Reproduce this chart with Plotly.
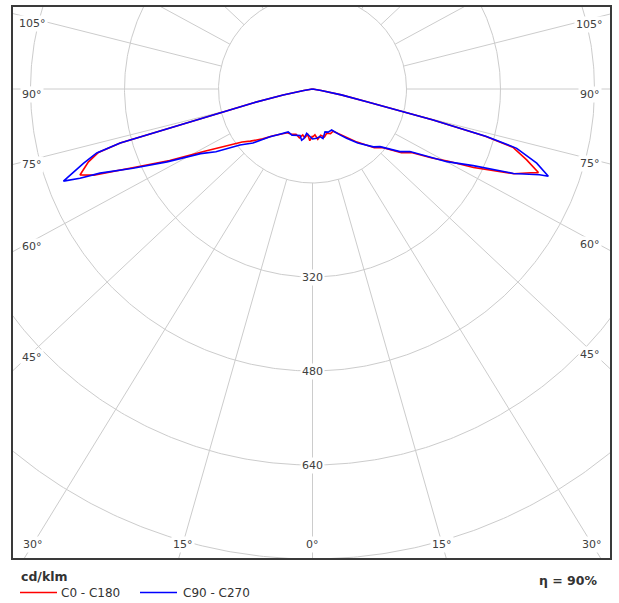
import numpy as np
import plotly.graph_objects as go

# ---------------- data (luminous intensity in cd/klm vs gamma angle in degrees) ----------------
# C0 plane (right half, red)
gamma_c0 = [0, 3, 6, 10, 14, 18, 22, 26, 31, 35, 40, 46.5, 50, 54.4, 57.3, 60, 62, 64, 67.2, 69.0, 69.7,
            71.7, 73.8, 74.7, 75.6, 76.8, 78.5, 80, 85, 90]
cd_c0 = [82, 78, 86, 80, 84, 79, 82, 80, 90, 101, 118, 145, 155, 186, 200, 235, 262, 305, 372, 398, 410,
         384, 355, 305, 212, 95, 50, 15, 4, 0]
# C180 plane (left half, red)
gamma_c180 = [0, 3, 6, 9, 12, 15, 20, 25, 30, 35, 40, 45, 50, 53, 56, 60, 63.4, 66.2, 68.5, 69.7,
              72.0, 73.5, 74.3, 74.6, 74.8, 75.5, 76.8, 78.5, 80, 85, 90]
cd_c180 = [80, 88, 78, 84, 80, 86, 82, 85, 86, 93, 104, 120, 138, 150, 170, 212, 272, 330, 400, 422,
           401, 380, 340, 282, 221, 163, 104, 51, 15, 4, 0]
# C90 plane (right half, blue)
gamma_c90 = [0, 4.9, 8.9, 12, 16.3, 20, 25, 30.9, 34.7, 40, 46.5, 49.5, 54.4, 57.3, 60, 61.6, 64.5, 67.2,
             69.3, 69.7, 71.7, 73.8, 74.7, 75.6, 76.8, 78.5, 80, 85, 90]
cd_c90 = [85, 84, 82, 86, 76, 78, 77, 91, 102, 120, 143, 151, 183, 197, 231, 260, 303, 371,
          413, 428, 402, 362, 307, 212, 95, 50, 15, 4, 0]
# C270 plane (left half, blue)
gamma_c270 = [0, 4, 7.5, 10, 12, 15, 19, 24, 29.5, 34, 37.7, 41.7, 45, 47.8, 52.3, 54.4, 57, 60, 63.4,
              66.2, 68.4, 69.0, 69.7, 72.0, 73.5, 74.3, 74.6, 74.8, 75.5, 76.8, 78.5, 80, 85, 90]
cd_c270 = [85, 80, 76, 86, 89, 82, 83, 86, 84, 92, 99, 109, 122, 137, 156, 173, 196, 220, 277,
           334, 389, 424, 452, 410, 383, 340, 282, 221, 163, 104, 51, 15, 4, 0]

series_names = ["C0 - C180", "C90 - C270"]
series_colors = ["#ff0000", "#0000ff"]

ring_values = [160, 320, 480, 640, 800]
ring_label_values = [320, 480, 640]
ray_gammas = [0, 15, 30, 45, 60, 75, 90, 105, 120, 135, 150, 165, 180]
side_label_gammas = [45, 60, 75, 90, 105]
bottom_label_gammas = [0, 15, 30]
unit_text = "cd/klm"
efficiency_text = "η = 90%"

# ---------------- layout constants ----------------
W, H = 619, 603
ML, MR, MT, MB = 12, 8, 6, 44
X_RANGE = [-511.5, 508.1]
Y_RANGE = [-800.0, 141.3]
PX_PER_UNIT = (W - ML - MR) / (X_RANGE[1] - X_RANGE[0])
RAY_K = 0.94          # vertical squash of the radial grid lines in the original drawing
GRID = "#cccccc"
TXT = "#404040"
FONT = "DejaVu Sans"

fig = go.Figure()

# rings
t = np.linspace(0, 2 * np.pi, 721)
for rv in ring_values:
    fig.add_trace(go.Scatter(x=rv * np.cos(t), y=rv * np.sin(t), mode="lines",
                             line=dict(color=GRID, width=1), hoverinfo="skip", showlegend=False))

# rays
def ray_dir(g, side):
    g = np.radians(g)
    dx, dy = side * np.sin(g), -RAY_K * np.cos(g)
    n = np.hypot(dx, dy)
    return dx / n, dy / n

for g in ray_gammas:
    for side in (-1, 1):
        dx, dy = ray_dir(g, side)
        fig.add_trace(go.Scatter(x=[160 * dx, 2000 * dx], y=[160 * dy, 2000 * dy], mode="lines",
                                 line=dict(color=GRID, width=1), hoverinfo="skip", showlegend=False))

# curves
def curve(gl, il, gr, ir):
    gl, gr = np.radians(gl), np.radians(gr)
    il, ir = np.asarray(il, float), np.asarray(ir, float)
    x = np.concatenate([(-il * np.sin(gl))[::-1], ir * np.sin(gr)])
    y = np.concatenate([(-il * np.cos(gl))[::-1], -ir * np.cos(gr)])
    return x, y

for name, color, (gl, il, gr, ir) in zip(series_names, series_colors,
                                         [(gamma_c180, cd_c180, gamma_c0, cd_c0),
                                          (gamma_c270, cd_c270, gamma_c90, cd_c90)]):
    x, y = curve(gl, il, gr, ir)
    fig.add_trace(go.Scatter(x=x, y=y, mode="lines", name=name,
                             line=dict(color=color, width=1.6), showlegend=False))

annotations = []
lab_font = dict(family=FONT, size=11, color=TXT)
# ring labels
for rv in ring_label_values:
    annotations.append(dict(x=0, y=-rv, xref="x", yref="y", text=str(rv), showarrow=False,
                            font=lab_font, bgcolor="white", borderpad=1))

# angle labels (centred a little below the end of each radial line)
SIDE_X_L, SIDE_X_R = -477.0, 472.0
BOTTOM_Y = -774.5
SIDE_DROP = 5 / PX_PER_UNIT
for g in side_label_gammas:
    for side, xl in ((-1, SIDE_X_L), (1, SIDE_X_R)):
        dx, dy = ray_dir(g, side)
        s = xl / dx
        annotations.append(dict(x=xl, y=s * dy - SIDE_DROP, xref="x", yref="y", text=f"{g}°",
                                showarrow=False, font=lab_font, bgcolor="white", borderpad=1))
for g in bottom_label_gammas:
    for side in ((-1, 1) if g else (1,)):
        dx, dy = ray_dir(g, side)
        s = BOTTOM_Y / dy
        annotations.append(dict(x=s * dx, y=BOTTOM_Y, xref="x", yref="y", text=f"{g}°", showarrow=False,
                                font=lab_font, bgcolor="white", borderpad=1))

pw, ph = W - ML - MR, H - MT - MB
def px(xp):
    return (xp - ML) / pw
def py(yp):
    return (H - MB - yp) / ph

annotations.append(dict(x=px(19), y=py(576), xref="paper", yref="paper", xanchor="left", yanchor="middle",
                        text=f"<b>{unit_text}</b>", showarrow=False,
                        font=dict(family=FONT, size=12.5, color="#333333")))
annotations.append(dict(x=px(599), y=py(580), xref="paper", yref="paper", xanchor="right", yanchor="middle",
                        text=f"<b>{efficiency_text}</b>", showarrow=False,
                        font=dict(family=FONT, size=12.5, color="#333333")))

shapes = [dict(type="rect", xref="paper", yref="paper", x0=0, x1=1, y0=0, y1=1,
               line=dict(color="#3a3a3a", width=2), layer="above")]
legend_pos = [(20, 57, 59), (140, 177, 181)]
for (a, b, tx), name, color in zip(legend_pos, series_names, series_colors):
    shapes.append(dict(type="line", xref="paper", yref="paper", x0=px(a), x1=px(b), y0=py(592.5), y1=py(592.5),
                       line=dict(color=color, width=1.6)))
    annotations.append(dict(x=px(tx), y=py(593), xref="paper", yref="paper", xanchor="left", yanchor="middle",
                            text=name, showarrow=False, font=dict(family=FONT, size=12, color="#333333")))

fig.update_layout(
    width=W, height=H, margin=dict(l=ML, r=MR, t=MT, b=MB),
    paper_bgcolor="white", plot_bgcolor="white",
    xaxis=dict(range=X_RANGE, visible=False, fixedrange=True),
    yaxis=dict(range=Y_RANGE, visible=False, fixedrange=True),
    annotations=annotations, shapes=shapes, showlegend=False,
)
fig.write_html("out.html", config={"displayModeBar": False},
               post_script="document.body.style.margin='0';document.body.style.overflow='hidden';")
